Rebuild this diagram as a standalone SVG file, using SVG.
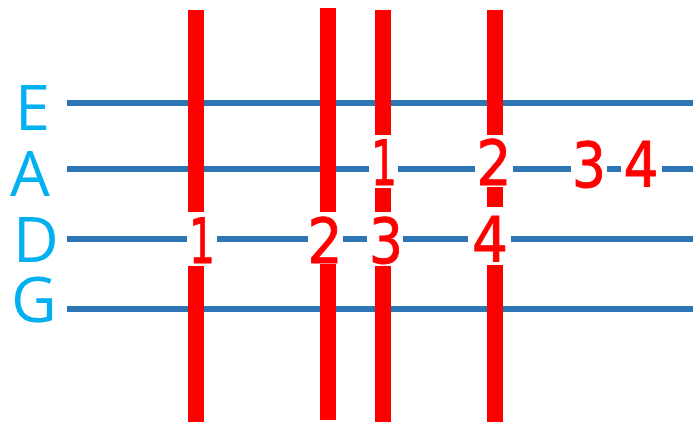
<svg xmlns="http://www.w3.org/2000/svg" width="700" height="422" viewBox="0 0 700 422">
<style>
.str{stroke:#2E75B6;stroke-width:6}
.bar{fill:#FF0000}
.gap{fill:#FFFFFF}
.lbl{font-family:"Open Sans","Noto Sans",sans-serif;font-size:63px;fill:#00B0F0}
.num{font-family:"DejaVu Sans",sans-serif;font-size:63px;fill:#FF0000;stroke:#FF0000;stroke-width:1;text-anchor:middle}
</style>
<rect width="700" height="422" fill="#FFFFFF"/>
<g id="strings">
<line class="str" x1="67" y1="103" x2="693" y2="103"/>
<line class="str" x1="67" y1="169" x2="693" y2="169"/>
<line class="str" x1="67" y1="239" x2="693" y2="239"/>
<line class="str" x1="67" y1="309" x2="693" y2="309"/>
</g>
<g id="frets">
<rect class="bar" x="188" y="10" width="16" height="412"/>
<rect class="bar" x="320" y="8" width="16" height="412"/>
<rect class="bar" x="375" y="10" width="16" height="412"/>
<rect class="bar" x="487" y="10" width="16" height="412"/>
</g>
<g id="labels">
<text class="lbl" x="15" y="130">E</text>
<text class="lbl" x="10" y="196">A</text>
<text class="lbl" x="13" y="262">D</text>
<text class="lbl" x="11" y="322">G</text>
</g>
<g id="notes">
<rect class="gap" x="369" y="135" width="29" height="53"/>
<rect class="gap" x="475" y="135" width="38" height="52"/>
<rect class="gap" x="571" y="133" width="36" height="57"/>
<rect class="gap" x="621" y="133" width="41" height="57"/>
<rect class="gap" x="187" y="212" width="30" height="54"/>
<rect class="gap" x="308" y="212" width="35" height="52"/>
<rect class="gap" x="367" y="212" width="36" height="54"/>
<rect class="gap" x="468" y="207" width="43" height="58"/>
<text class="num" x="384" y="185" textLength="26" lengthAdjust="spacingAndGlyphs">1</text>
<text class="num" x="494" y="185" textLength="35" lengthAdjust="spacingAndGlyphs">2</text>
<text class="num" x="589" y="187" textLength="34" lengthAdjust="spacingAndGlyphs">3</text>
<text class="num" x="641" y="187" textLength="35" lengthAdjust="spacingAndGlyphs">4</text>
<text class="num" x="202" y="263" textLength="26" lengthAdjust="spacingAndGlyphs">1</text>
<text class="num" x="325" y="263" textLength="35" lengthAdjust="spacingAndGlyphs">2</text>
<text class="num" x="386" y="263" textLength="34" lengthAdjust="spacingAndGlyphs">3</text>
<text class="num" x="490" y="262" textLength="36" lengthAdjust="spacingAndGlyphs">4</text>
</g>
</svg>
